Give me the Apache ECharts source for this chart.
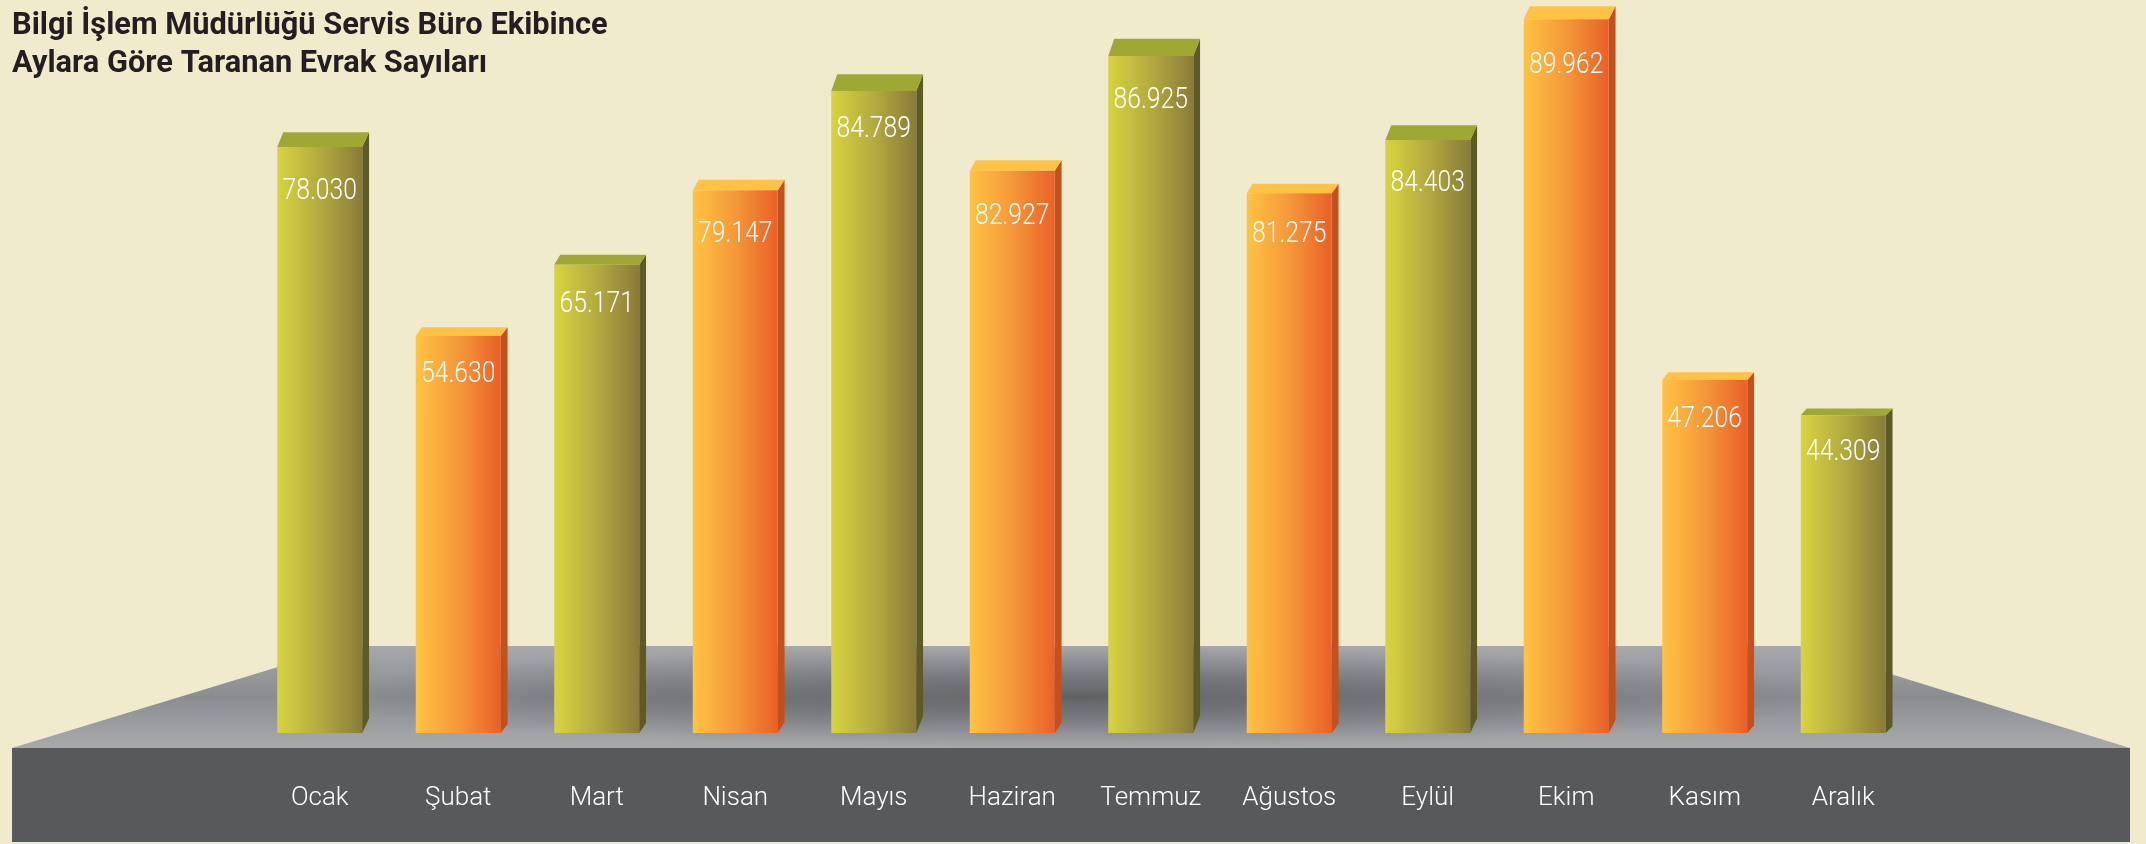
<!DOCTYPE html>
<html>
<head>
<meta charset="utf-8">
<title>Taranan Evrak Sayıları</title>
<style>html,body{margin:0;padding:0;background:#f1ebcd}#c{width:2146px;height:844px}</style>
<script src="https://cdn.jsdelivr.net/npm/echarts@6/dist/echarts.min.js"></script>
</head>
<body>
<div id="c"></div>
<script>
const months = ['Ocak','Şubat','Mart','Nisan','Mayıs','Haziran','Temmuz','Ağustos','Eylül','Ekim','Kasım','Aralık'];
// Figures printed on the bars.
const printedValues = ['78.030','54.630','65.171','79.147','84.789','82.927','86.925','81.275','84.403','89.962','47.206','44.309'];
// The heights as drawn in the picture do not follow the printed figures exactly,
// so they are read separately, on a scale anchored at the tallest bar (Ekim = 89962).
const drawnHeights = [73865,50042,59042,68407,80924,70891,85336,68029,74748,89962,44496,40046];
const colourGroup = ['olive','orange','olive','orange','olive','orange','olive','orange','olive','orange','orange','olive'];

// Styling only
const BASE = 733, BAR_W = 85, SIDE_DX = 6.8, TOP_DX = 6;
const capDepth = [14.7,8.7,10,10.7,16.7,10.3,17.4,9.7,14.7,13,7.7,6.7];
const labelDrop = [42,35.3,37.4,41.7,36,43,41.6,38.7,41,43,37,34];
const palette = {
  olive:  {front:['#d8d340','#b3ab40','#897b39'], side:'#5e5a27', top:'#a0a733'},
  orange: {front:['#ffc343','#f4983a','#e96028'], side:'#c1511f', top:'#ffc244'}
};
const FONT = 'Roboto,sans-serif';
const horiz = c => ({type:'linear',x:0,y:0,x2:1,y2:0,colorStops:[
  {offset:0,color:c[0]},{offset:.5,color:c[1]},{offset:1,color:c[2]}]});

const chart = echarts.init(document.getElementById('c'), null, {renderer:'canvas'});
chart.setOption({
  animation:false,
  backgroundColor:'#f1ebcd',
  title:{
    text:'Bilgi İşlem Müdürlüğü Servis Büro Ekibince\nAylara Göre Taranan Evrak Sayıları',
    left:7, top:2,
    textStyle:{fontFamily:FONT,fontWeight:'bold',fontSize:30.8,lineHeight:38,color:'#231f20'}
  },
  graphic:[
    {type:'polygon',silent:true,z:0,
      shape:{points:[[347,646],[1800,646],[2130,748],[12,748]]},
      style:{fill:{type:'linear',x:0,y:0,x2:0,y2:1,colorStops:[
        {offset:0,color:'#a7a8ac'},{offset:.5,color:'#8b8c90'},{offset:.88,color:'#a3a4a8'},{offset:1,color:'#a7a8ab'}]}}},
    {type:'circle',silent:true,z:1,x:1080,y:697,scaleX:15,
      shape:{cx:0,cy:0,r:51},
      style:{fill:{type:'radial',x:.5,y:.5,r:.5,colorStops:[
        {offset:0,color:'rgba(88,89,91,.85)'},{offset:.15,color:'rgba(88,89,91,.65)'},
        {offset:.4,color:'rgba(88,89,91,.5)'},{offset:.75,color:'rgba(88,89,91,.18)'},{offset:1,color:'rgba(88,89,91,0)'}]}}},
    {type:'rect',silent:true,z:0,shape:{x:12,y:748,width:2118,height:94},style:{fill:'#58595b'}}
  ],
  grid:{left:250.5,top:0,width:1662,height:BASE,containLabel:false},
  xAxis:{type:'category',data:months,
    axisLine:{show:false},axisTick:{show:false},
    axisLabel:{color:'#ffffff',fontFamily:FONT,fontWeight:300,fontSize:26,margin:52,interval:0}},
  yAxis:{type:'value',min:0,max:92400,show:false,splitLine:{show:false}},
  series:[
    {type:'custom',z:2,silent:true,clip:false,
      data:drawnHeights.map((h,i)=>[i,h]),
      encode:{x:0,y:1},
      renderItem(params,api){
        const i=api.value(0);
        const p=api.coord([i,api.value(1)]);
        const base=api.coord([i,0])[1];
        const xl=p[0]-BAR_W/2, xr=p[0]+BAR_W/2, y=p[1], d=capDepth[i];
        const c=palette[colourGroup[i]];
        return {type:'group',children:[
          {type:'polygon',shape:{points:[[xr,y],[xr+SIDE_DX,y-d],[xr+SIDE_DX,base-d],[xr,base]]},style:{fill:c.side}},
          {type:'polygon',shape:{points:[[xl,y],[xl+TOP_DX,y-d],[xr+SIDE_DX,y-d],[xr,y]]},style:{fill:c.top}}
        ]};
      }},
    {type:'bar',z:3,silent:true,barWidth:BAR_W,
      data:drawnHeights.map((h,i)=>({
        value:h,
        itemStyle:{color:horiz(palette[colourGroup[i]].front)}
      }))},
    {type:'custom',z:4,silent:true,clip:false,
      data:drawnHeights.map((h,i)=>[i,h]),
      encode:{x:0,y:1},
      renderItem(params,api){
        const i=api.value(0);
        const p=api.coord([i,api.value(1)]);
        return {type:'text',x:p[0],y:p[1]+labelDrop[i]+3,scaleX:.85,
          style:{text:printedValues[i],fill:'#ffffff',font:'300 29px '+FONT,align:'center',verticalAlign:'middle'}};
      }}
  ]
});
</script>
</body>
</html>
